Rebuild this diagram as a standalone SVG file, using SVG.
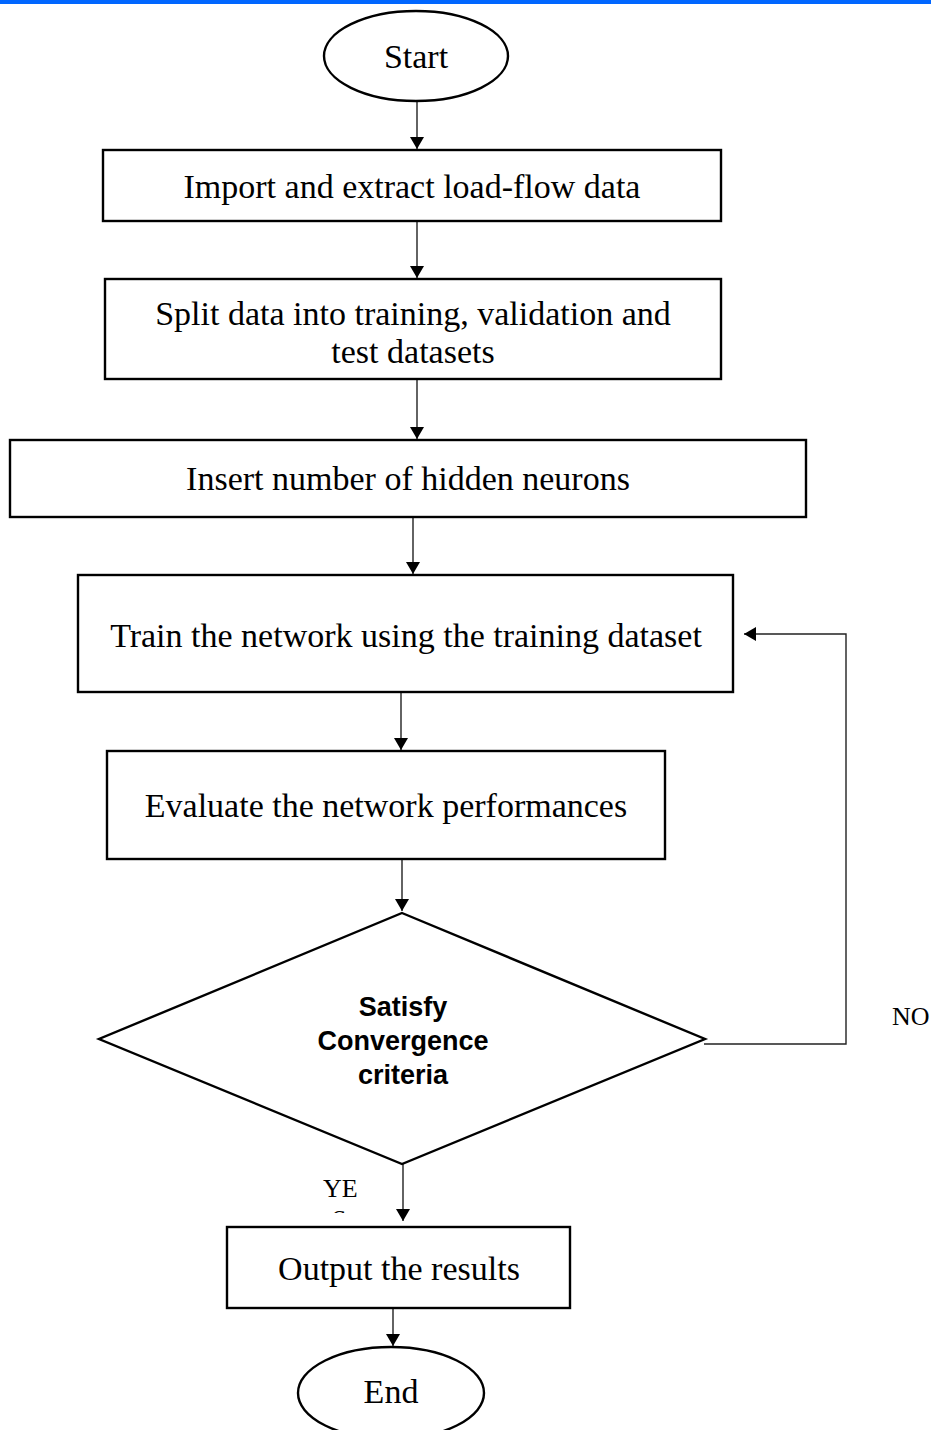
<svg xmlns="http://www.w3.org/2000/svg" width="931" height="1430" viewBox="0 0 931 1430">
<defs>
<style>
.box{fill:#fff;stroke:#000;stroke-width:2.4}
.t{font-family:"Liberation Serif","Times New Roman",serif;font-size:34px;fill:#000;text-anchor:middle}
.b{font-family:"Liberation Sans",Arial,sans-serif;font-weight:bold;font-size:27px;fill:#000;text-anchor:middle}
.lbl{font-family:"Liberation Serif","Times New Roman",serif;font-size:26px;fill:#000}
.c{fill:none;stroke:#222;stroke-width:1.4}
</style>
<marker id="ah" markerWidth="12" markerHeight="14" refX="12" refY="7" orient="auto" markerUnits="userSpaceOnUse">
<path d="M0,0 L12,7 L0,14 Z" fill="#000"/>
</marker>
<clipPath id="yesclip"><rect x="300" y="1170" width="90" height="43"/></clipPath>
</defs>
<rect x="0" y="0" width="931" height="4" fill="#0066ff"/>
<g id="connectors">
<line class="c" x1="417" y1="102" x2="417" y2="149" marker-end="url(#ah)"/>
<line class="c" x1="417" y1="221" x2="417" y2="278" marker-end="url(#ah)"/>
<line class="c" x1="417" y1="379" x2="417" y2="439" marker-end="url(#ah)"/>
<line class="c" x1="413" y1="517" x2="413" y2="574" marker-end="url(#ah)"/>
<line class="c" x1="401" y1="692" x2="401" y2="750" marker-end="url(#ah)"/>
<line class="c" x1="402" y1="859" x2="402" y2="911" marker-end="url(#ah)"/>
<line class="c" x1="403" y1="1164" x2="403" y2="1221" marker-end="url(#ah)"/>
<line class="c" x1="393" y1="1308" x2="393" y2="1346" marker-end="url(#ah)"/>
<polyline class="c" points="704,1044 846,1044 846,634 744,634" marker-end="url(#ah)"/>
</g>
<g id="start">
<ellipse class="box" cx="416" cy="56" rx="92" ry="45"/>
<text class="t" x="416" y="68">Start</text>
</g>
<g id="import">
<rect class="box" x="103" y="150" width="618" height="71"/>
<text class="t" x="412" y="198">Import and extract load-flow data</text>
</g>
<g id="split">
<rect class="box" x="105" y="279" width="616" height="100"/>
<text class="t" x="413" y="325">Split data into training, validation and</text>
<text class="t" x="413" y="363">test datasets</text>
</g>
<g id="insert">
<rect class="box" x="10" y="440" width="796" height="77"/>
<text class="t" x="408" y="490">Insert number of hidden neurons</text>
</g>
<g id="train">
<rect class="box" x="78" y="575" width="655" height="117"/>
<text class="t" x="406" y="647">Train the network using the training dataset</text>
</g>
<g id="evaluate">
<rect class="box" x="107" y="751" width="558" height="108"/>
<text class="t" x="386" y="817">Evaluate the network performances</text>
</g>
<g id="decision">
<polygon class="box" points="402,913 705,1039 402,1164 99,1039"/>
<text class="b" x="403" y="1016">Satisfy</text>
<text class="b" x="403" y="1050">Convergence</text>
<text class="b" x="403" y="1084">criteria</text>
</g>
<g id="labels">
<text class="lbl" x="892" y="1025">NO</text>
<g clip-path="url(#yesclip)">
<text class="lbl" x="323" y="1197">YE</text>
<text class="lbl" x="332" y="1228">S</text>
</g>
</g>
<g id="output">
<rect class="box" x="227" y="1227" width="343" height="81"/>
<text class="t" x="399" y="1280">Output the results</text>
</g>
<g id="end">
<ellipse class="box" cx="391" cy="1393" rx="93" ry="46"/>
<text class="t" x="391" y="1403">End</text>
</g>
</svg>
